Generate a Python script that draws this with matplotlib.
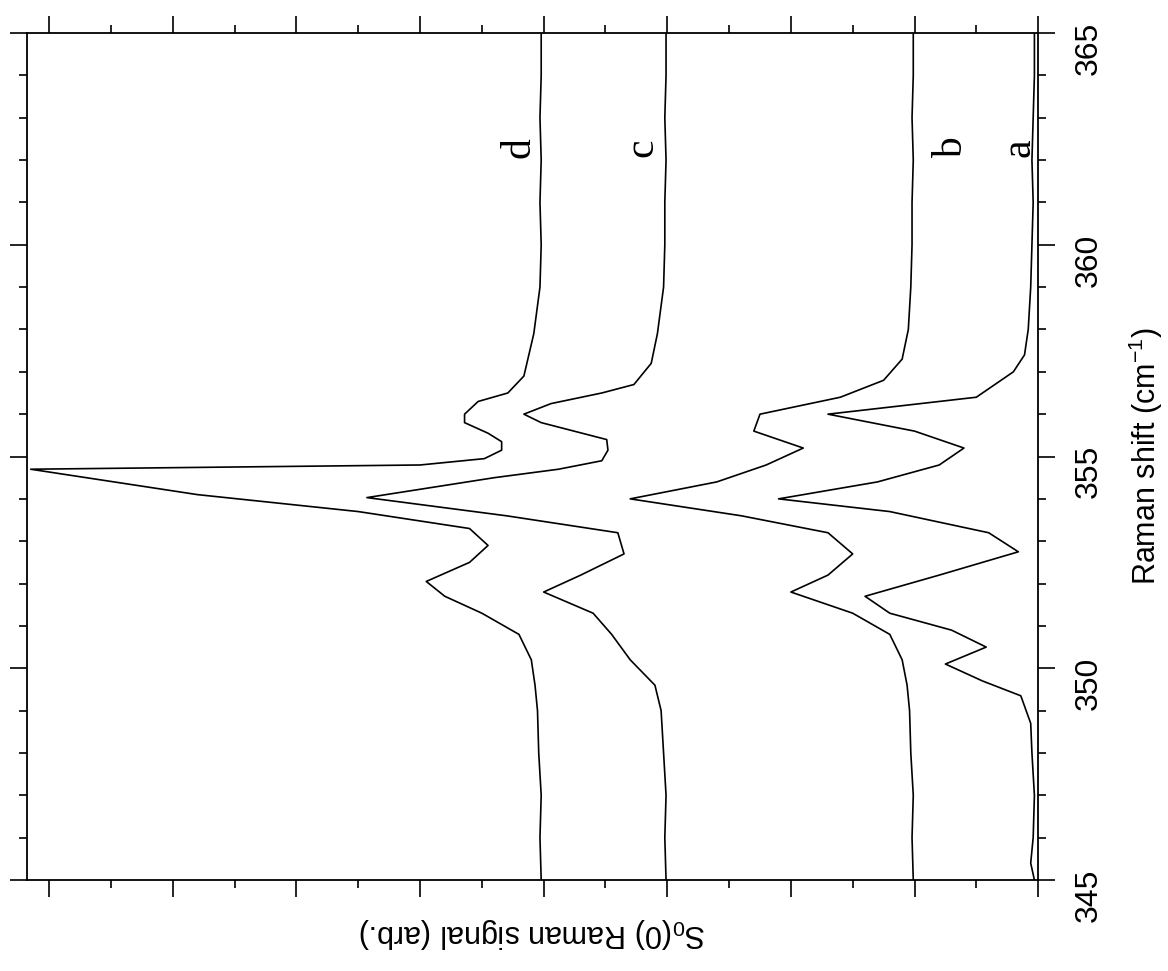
import matplotlib.pyplot as plt
import numpy as np
from matplotlib.ticker import MultipleLocator

plt.rcParams['font.family'] = ['Liberation Sans', 'DejaVu Sans']

# Raman shift (cm-1) and signal (arb.) for the four spectra
shift_a = [345.0, 345.4, 346.0, 347.0, 348.0, 348.7, 349.35, 349.7, 350.1, 350.5, 350.9, 351.3, 351.7, 352.2, 352.75, 353.2, 353.7, 354.0, 354.4, 354.8, 355.2, 355.6, 356.0, 356.4, 357.0, 357.4, 358.0, 359.0, 360.0, 361.0, 362.0, 363.0, 364.0, 365.0]
sig_a = [0.03, 0.06, 0.04, 0.03, 0.05, 0.06, 0.14, 0.45, 0.75, 0.42, 0.7, 1.2, 1.4, 0.8, 0.16, 0.4, 1.2, 2.1, 1.3, 0.8, 0.6, 1.0, 1.7, 0.5, 0.2, 0.11, 0.08, 0.06, 0.05, 0.04, 0.05, 0.04, 0.03, 0.03]

shift_b = [345.0, 346.0, 347.0, 348.0, 349.0, 349.6, 350.2, 350.8, 351.3, 351.8, 352.2, 352.7, 353.2, 353.6, 354.0, 354.4, 354.8, 355.2, 355.6, 356.0, 356.4, 356.8, 357.3, 358.0, 359.0, 360.0, 361.0, 362.0, 363.0, 364.0, 365.0]
sig_b = [1.01, 1.02, 1.01, 1.03, 1.04, 1.06, 1.1, 1.2, 1.5, 2.0, 1.7, 1.5, 1.7, 2.4, 3.3, 2.6, 2.2, 1.9, 2.3, 2.25, 1.6, 1.25, 1.1, 1.05, 1.03, 1.02, 1.02, 1.01, 1.02, 1.01, 1.01]

shift_c = [345.0, 346.0, 347.0, 348.0, 349.0, 349.6, 350.2, 350.8, 351.3, 351.8, 352.2, 352.7, 353.2, 353.6, 354.03, 354.5, 354.7, 354.9, 355.15, 355.4, 355.8, 356.0, 356.25, 356.5, 356.7, 357.2, 357.9, 359.0, 360.0, 361.0, 362.0, 363.0, 364.0, 365.0]
sig_c = [3.01, 3.02, 3.01, 3.03, 3.05, 3.1, 3.3, 3.45, 3.6, 4.0, 3.7, 3.35, 3.4, 4.3, 5.43, 4.4, 3.88, 3.53, 3.48, 3.49, 4.02, 4.16, 3.94, 3.53, 3.27, 3.13, 3.08, 3.03, 3.02, 3.02, 3.01, 3.02, 3.01, 3.01]

shift_d = [345.0, 346.0, 347.0, 348.0, 349.0, 349.6, 350.2, 350.8, 351.3, 351.7, 352.05, 352.5, 352.9, 353.3, 353.7, 354.1, 354.7, 354.8, 354.95, 355.15, 355.35, 355.55, 355.8, 356.0, 356.3, 356.5, 356.9, 357.9, 359.0, 360.0, 361.0, 362.0, 363.0, 364.0, 365.0]
sig_d = [4.02, 4.03, 4.02, 4.04, 4.05, 4.07, 4.1, 4.2, 4.5, 4.8, 4.95, 4.6, 4.45, 4.6, 5.5, 6.8, 8.15, 5.0, 4.48, 4.34, 4.34, 4.45, 4.64, 4.64, 4.53, 4.29, 4.16, 4.08, 4.03, 4.02, 4.03, 4.02, 4.03, 4.02, 4.02]

curve_labels = ['a', 'b', 'c', 'd']
label_sig = [0.15, 0.7, 3.2, 4.2]
label_shift = [362.3, 362.3, 362.3, 362.3]

fig = plt.figure(figsize=(11.68, 9.71), dpi=100)
ax = fig.add_axes([0.0231, 0.0937, 0.8657, 0.8723])

for s, v in [(shift_a, sig_a), (shift_b, sig_b), (shift_c, sig_c), (shift_d, sig_d)]:
    ax.plot(v, s, color='black', lw=1.2)

for t, x, y in zip(curve_labels, label_sig, label_shift):
    ax.text(x, y, t, rotation=90, ha='center', va='center',
            fontfamily='Liberation Serif', fontsize=30)

ax.set_xlim(8.18, 0)
ax.set_ylim(345, 365)
ax.xaxis.set_major_locator(MultipleLocator(1))
ax.xaxis.set_minor_locator(MultipleLocator(0.5))
ax.yaxis.set_major_locator(MultipleLocator(5))
ax.yaxis.set_minor_locator(MultipleLocator(1))
ax.tick_params(which='both', direction='out', top=True, bottom=True, left=True, right=True,
               labelbottom=False, labelleft=False, labelright=True, width=1.2)
ax.tick_params(which='major', length=12)
ax.tick_params(which='minor', length=6)
ax.tick_params(axis='y', labelrotation=90, labelsize=23, pad=14)
for sp in ax.spines.values():
    sp.set_linewidth(1.3)

ax.set_xlabel(r'S$_\mathregular{0}$(0) Raman signal (arb.)', rotation=180, fontsize=22, labelpad=14)
ax.yaxis.set_label_position('right')
ax.set_ylabel(r'Raman shift (cm$^\mathregular{-1}$)', rotation=90, fontsize=22, labelpad=16)

fig.savefig('out.png', dpi=100)
